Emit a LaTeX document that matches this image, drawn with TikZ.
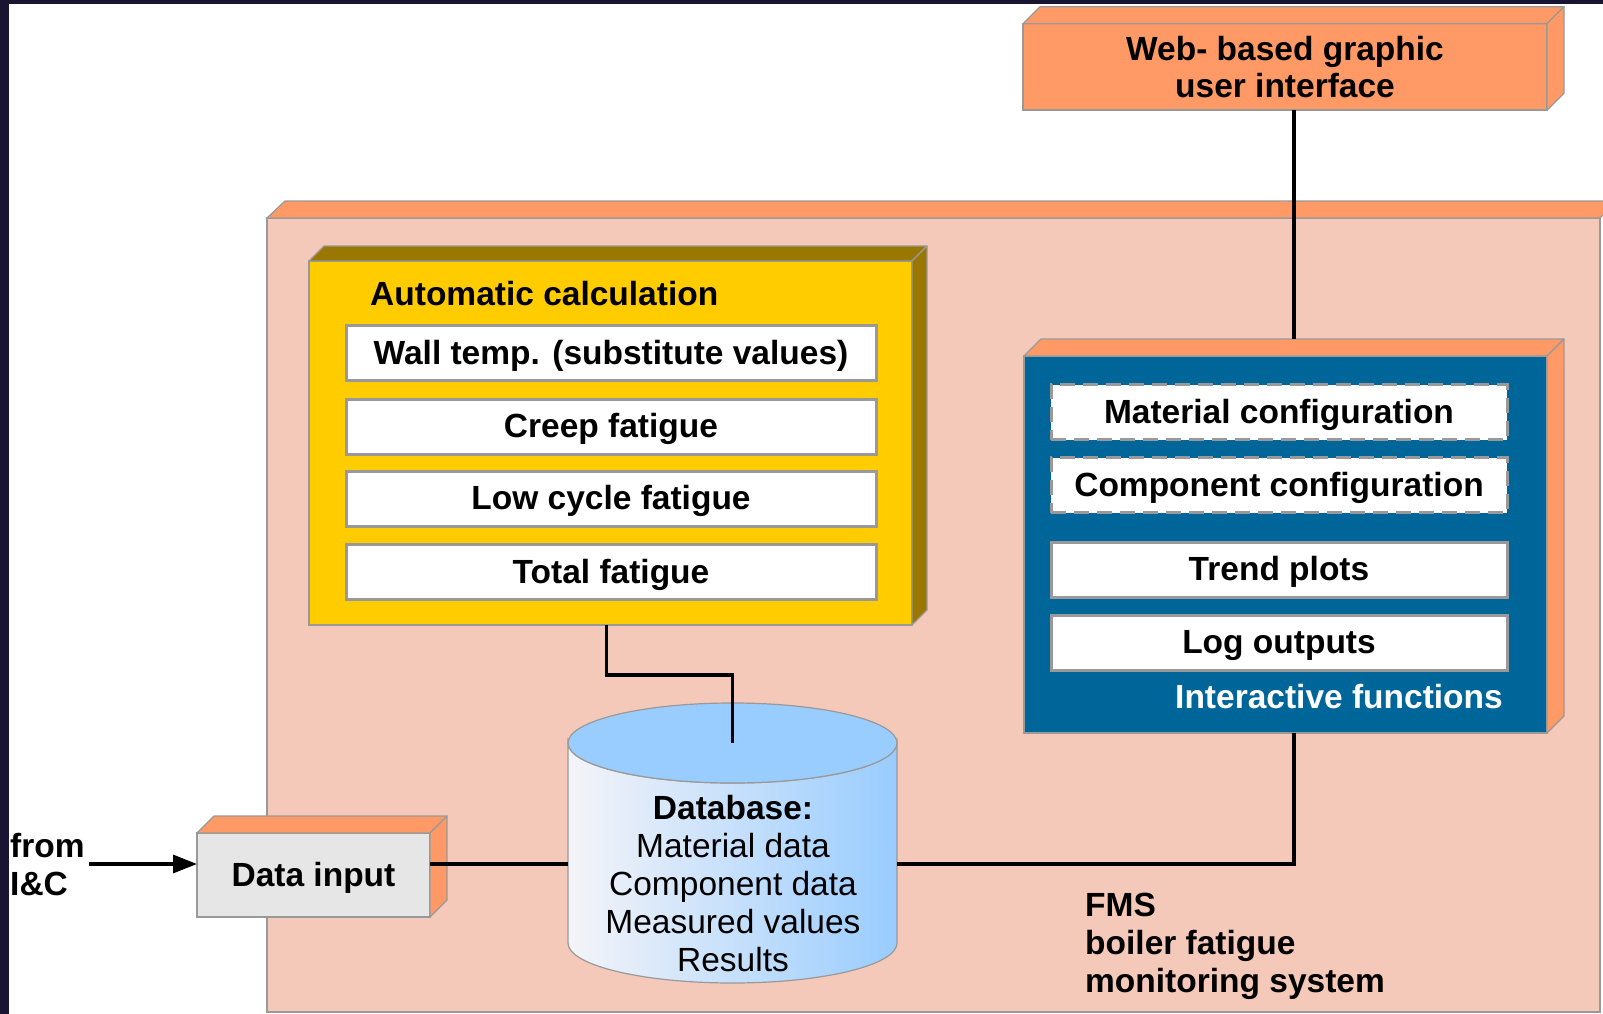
\documentclass[tikz,border=0pt]{standalone}
\usepackage{fontspec}
\setmainfont{Liberation Sans}
\usetikzlibrary{calc,arrows.meta}
\definecolor{frame}{HTML}{1A1433}
\definecolor{pinkf}{HTML}{F5C9B9}
\definecolor{orng}{HTML}{FF9966}
\definecolor{yel}{HTML}{FFCC00}
\definecolor{yeld}{HTML}{997700}
\definecolor{blu}{HTML}{006699}
\definecolor{edge}{HTML}{999999}
\definecolor{dbtop}{HTML}{99CCFF}
\definecolor{dbleft}{HTML}{F4F4F8}
\definecolor{grayf}{HTML}{E6E6E6}
\newcommand\bigfont{\fontsize{33.5}{37.8}\selectfont}
\newcommand\threed[4]{%
  \filldraw[draw=edge, line width=1.2pt, fill=#3, line join=round]
    (#1.north west) -- ++(#2,#2) -- ($(#1.north east)+(#2,#2)$) -- (#1.north east) -- cycle;
  \filldraw[draw=edge, line width=1.2pt, fill=#4, line join=round]
    (#1.north east) -- ++(#2,#2) -- ($(#1.south east)+(#2,#2)$) -- (#1.south east) -- cycle;}
\tikzset{
  face/.style={draw=edge, line width=1.5pt, inner sep=0pt, outer sep=0pt},
  item/.style={draw=edge, fill=white, line width=3pt, inner sep=0pt, outer sep=0pt,
    minimum height=55pt, text height=29pt, text depth=7pt, font=\bigfont\bfseries},
  yitem/.style={item, minimum width=530pt},
  bitem/.style={item, minimum width=456pt},
  dashitem/.style={bitem, dash pattern=on 15pt off 8pt},
  conn/.style={line width=3.2pt, black},
  lbl/.style={font=\bigfont\bfseries, inner sep=0pt},
}
\begin{document}
\begin{tikzpicture}[x=1pt,y=1pt]
\useasboundingbox (0,0) rectangle (1603,-1014);
\clip (0,0) rectangle (1603,-1014);
\fill[white] (0,0) rectangle (1603,-1014);
\fill[frame] (0,0) rectangle (9,-1014);
\fill[frame] (0,0) rectangle (1603,-4);

% big FMS box
\node[face, fill=pinkf, minimum width=1333pt, minimum height=794pt] (fms) at (933.5,-615) {};
\filldraw[draw=edge, line width=1.2pt, fill=orng]
  (fms.north west) -- ++(18,17) -- ($(fms.north east)+(18,17)$) -- (fms.north east) -- cycle;

% web box
\node[face, fill=orng, minimum width=524pt, minimum height=86.5pt, align=center,
  font=\bigfont\bfseries] (web) at (1285,-67) {Web- based graphic\\user interface};
\threed{web}{17}{orng}{orng}

% automatic calculation
\node[face, fill=yel, minimum width=603pt, minimum height=364pt] (auto) at (610.5,-443) {};
\threed{auto}{15}{yeld}{yeld}
\node[lbl, anchor=west] (autot) at (370,-294) {Automatic calculation};
\node[yitem] (wall) at (611,-353) {Wall temp. (substitute values)};
\node[yitem] (creep) at (611,-426.5) {Creep fatigue};
\node[yitem] (lcf) at (611,-498.5) {Low cycle fatigue};
\node[yitem] (total) at (611,-572) {Total fatigue};

% interactive functions
\node[face, fill=blu, minimum width=523pt, minimum height=377pt] (blue) at (1285.5,-544.5) {};
\threed{blue}{17}{orng}{orng}
\node[dashitem] (matc) at (1279,-412) {Material configuration};
\node[dashitem] (compc) at (1279,-485) {Component configuration};
\node[bitem] (trend) at (1279,-569.5) {Trend plots};
\node[bitem] (logo) at (1279,-642.5) {Log outputs};
\node[lbl, anchor=east, text=white] (intf) at (1503,-697) {Interactive functions};

% database cylinder
\shadedraw[left color=dbleft, right color=dbtop, draw=edge, line width=1.2pt]
  (568,-743) -- (568,-943)
  arc[start angle=180, end angle=360, x radius=164.5, y radius=40]
  -- (897,-743)
  arc[start angle=0, end angle=-180, x radius=164.5, y radius=40] -- cycle;
\filldraw[fill=dbtop, draw=edge, line width=1.2pt] (732.5,-743) ellipse[x radius=164.5, y radius=40];
\coordinate (dbc) at (732.5,-743);
\node[minimum width=329pt, minimum height=280pt, inner sep=0pt, outer sep=0pt] (db) at (732.5,-843) {};
\node[font=\bigfont, align=center, inner sep=0pt] (dbtext) at (733,-883.5)
  {\textbf{Database:}\\Material data\\Component data\\Measured values\\Results};

% data input
\node[face, fill=grayf, minimum width=233pt, minimum height=84pt, font=\bigfont\bfseries,
  text height=29pt, text depth=7pt] (din) at (313.5,-875) {Data input};
\threed{din}{17}{orng}{orng}

% texts
\node[lbl, anchor=west, align=left] (from) at (10,-864.5) {from\\I\&C};
\node[lbl, anchor=west, align=left] (fmst) at (1085,-946.5) {FMS\\boiler fatigue\\monitoring system};

% connectors
\coordinate (bus) at (0,-864);
\coordinate (src) at (89,-864);
\coordinate (vx) at ($(blue.north)+(8.5,17)$);
\draw[conn] (web.south -| vx) -- (vx);
\draw[conn] (blue.south -| vx) |- (db.east |- bus);
\draw[conn] ([xshift=-4pt]auto.south) -- ++(0,-50) -| (dbc);
\draw[conn] (din.east |- bus) -- (db.west |- bus);
\draw[conn, -{Triangle[length=24pt,width=18pt]}] (src) -- (din.west |- src);
\end{tikzpicture}
\end{document}
